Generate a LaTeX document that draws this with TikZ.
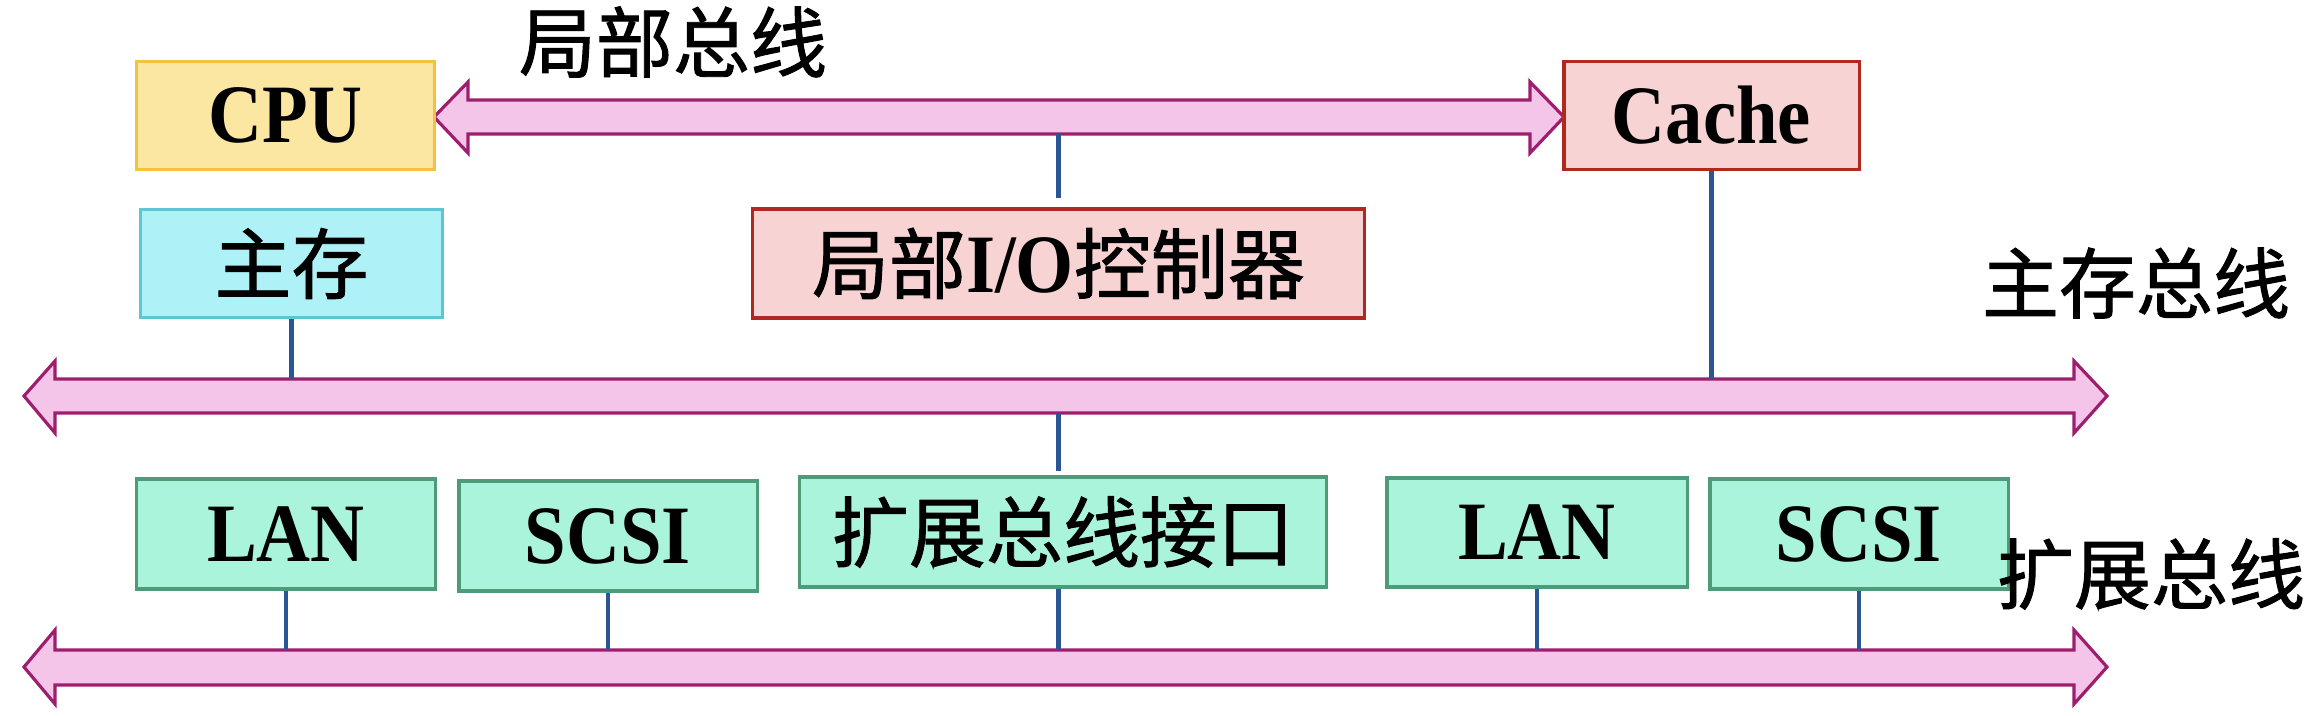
\documentclass[tikz,border=0pt]{standalone}
\usepackage{fontspec}
\setmainfont{Liberation Serif}
\newfontfamily\cjk[FakeBold=1.2]{Noto Sans CJK SC}
\newfontfamily\lat[FakeStretch=0.9]{Liberation Serif}
\definecolor{cpuFill}{HTML}{FBE7A1}
\definecolor{cpuLine}{HTML}{F6C143}
\definecolor{memFill}{HTML}{AEF2F8}
\definecolor{memLine}{HTML}{5CC7D2}
\definecolor{redFill}{HTML}{F8D3D3}
\definecolor{redLine}{HTML}{B0281E}
\definecolor{grnFill}{HTML}{AAF4DB}
\definecolor{grnLine}{HTML}{4E9B7A}
\definecolor{busFill}{HTML}{F4C5E9}
\definecolor{busLine}{HTML}{9E1E6E}
\definecolor{linkCol}{HTML}{2A5597}
\begin{document}
\begin{tikzpicture}[x=0.01cm,y=-0.01cm,
  box/.style={draw, line width=0.9pt, inner sep=0pt, minimum height=1.08cm, align=center},
  cpubox/.style={box, fill=cpuFill, draw=cpuLine},
  membox/.style={box, fill=memFill, draw=memLine},
  redbox/.style={box, fill=redFill, draw=redLine},
  grnbox/.style={box, fill=grnFill, draw=grnLine},
  latxt/.style={font=\fontsize{23.6pt}{26pt}\lat\bfseries},
  cjtxt/.style={font=\fontsize{21.9pt}{24pt}\cjk},
  bus/.style={draw=busLine, fill=busFill, line width=0.9pt, line join=miter},
  link/.style={draw=linkCol, line width=1.2pt},
  lbl/.style={cjtxt, inner sep=0pt}]
\useasboundingbox (0,0) rectangle (2318,716);
\fill[white] (0,0) rectangle (2318,716);

% buses
\draw[bus] (434,117) -- (468,82) -- (468,100) -- (1530,100) -- (1530,82) -- (1564,117)
  -- (1530,153) -- (1530,134) -- (468,134) -- (468,153) -- cycle;
\draw[bus] (24,396) -- (55,361) -- (55,379) -- (2074,379) -- (2074,361) -- (2107,396)
  -- (2074,433) -- (2074,413) -- (55,413) -- (55,433) -- cycle;
\draw[bus] (24,667) -- (55,630) -- (55,650) -- (2074,650) -- (2074,630) -- (2107,667)
  -- (2074,704) -- (2074,685) -- (55,685) -- (55,704) -- cycle;
\coordinate (topB) at (0,134);
\coordinate (mainT) at (0,379);
\coordinate (mainB) at (0,413);
\coordinate (botT) at (0,650);

% boxes
\node[cpubox, latxt, minimum width=2.97cm] (cpu) at (285.5,115.5) {CPU};
\node[redbox, latxt, minimum width=2.95cm] (cache) at (1711.5,115.5) {Cache};
\node[membox, cjtxt, minimum width=3.01cm] (mem) at (291.5,263.5) {主存};
\node[redbox, cjtxt, minimum width=6.11cm, minimum height=1.09cm] (io) at (1058.5,263.5)
  {局部{\fontsize{23.6pt}{26pt}\lat\bfseries I/O}控制器};
\node[grnbox, latxt, minimum width=2.98cm, minimum height=1.10cm] (lan1) at (286,534) {LAN};
\node[grnbox, latxt, minimum width=2.98cm, minimum height=1.10cm] (scsi1) at (608,536) {SCSI};
\node[grnbox, cjtxt, minimum width=5.26cm, minimum height=1.10cm] (ext) at (1063,532) {扩展总线接口};
\node[grnbox, latxt, minimum width=3.00cm, minimum height=1.09cm] (lan2) at (1537,532.5) {LAN};
\node[grnbox, latxt, minimum width=2.98cm, minimum height=1.10cm] (scsi2) at (1859,534) {SCSI};

% connectors
\draw[link, shorten >=0.09cm] (io.north |- topB) -- (io.north);
\draw[link] (mem.south) -- (mem.south |- mainT);
\draw[link] (cache.south) -- (cache.south |- mainT);
\draw[link, shorten >=0.04cm] (io.south |- mainB) -- (io.south |- ext.north);
\draw[link] (io.south |- ext.south) -- (io.south |- botT);
\draw[link] (lan1.south) -- (lan1.south |- botT);
\draw[link] (scsi1.south) -- (scsi1.south |- botT);
\draw[link] (lan2.south) -- (lan2.south |- botT);
\draw[link] (scsi2.south) -- (scsi2.south |- botT);

% labels
\node[lbl] (lLocal) at (673,42) {局部总线};
\node[lbl] (lMain) at (2136,283) {主存总线};
\node[lbl] (lExt) at (2151,574) {扩展总线};
\end{tikzpicture}
\end{document}
